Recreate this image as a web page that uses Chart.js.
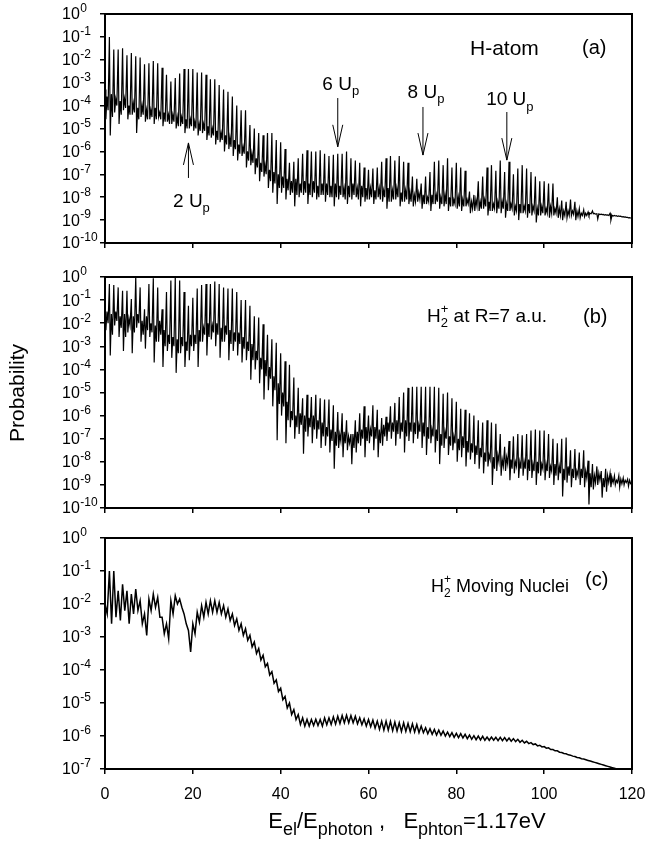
<!DOCTYPE html>
<html>
<head>
<meta charset="utf-8">
<script src="https://cdn.jsdelivr.net/npm/chart.js@4.4.0/dist/chart.umd.min.js"></script>
<style>
  html, body { margin: 0; padding: 0; background: #fff; }
  #page { position: relative; width: 650px; height: 842px; }
  canvas { position: absolute; left: 0; }
</style>
</head>
<body>
<div id="page">
  <canvas id="panelA" width="650" height="262" style="top:0px"></canvas>
  <canvas id="panelB" width="650" height="262" style="top:262px"></canvas>
  <canvas id="panelC" width="650" height="318" style="top:524px"></canvas>
</div>
<script>
const FONT = '"Liberation Sans", Arial, Helvetica, sans-serif';

// shared x ticks (electron energy in photon units)
const xTicks = [0, 20, 40, 60, 80, 100, 120];
// decades on the y axes, as exponents of ten
const decadesAB = [0, -1, -2, -3, -4, -5, -6, -7, -8, -9, -10];
const decadesC = [0, -1, -2, -3, -4, -5, -6, -7];

// (a) H-atom, log10 of probability: peak at each photon order n = 0..120
const peaksA = [
  -3.3, -1.0, -1.55, -1.55, -1.5, -1.8, -1.7, -1.85, -1.9, -2.2,
  -2.15, -2.05, -2.15, -2.35, -2.65, -2.95, -2.8, -2.6, -2.4, -2.4,
  -2.4, -2.55, -2.55, -2.65, -2.85, -2.85, -3.1, -3.3, -3.4, -3.6,
  -4.0, -4.2, -4.2, -4.85, -5.0, -5.2, -5.3, -5.2, -5.2, -5.5,
  -5.6, -5.9, -6.5, -6.45, -6.3, -6.1, -5.95, -6.0, -6.0, -5.95,
  -6.1, -6.2, -6.15, -6.1, -6.1, -6.0, -6.3, -6.4, -6.5, -6.7,
  -6.8, -6.75, -6.7, -6.45, -6.3, -6.2, -6.4, -6.2, -6.45, -6.5,
  -7.1, -7.2, -7.4, -7.1, -6.9, -6.45, -6.4, -6.6, -6.3, -6.7,
  -6.5, -6.7, -6.85, -7.75, -7.9, -7.3, -7.1, -6.7, -6.6, -6.85,
  -6.4, -6.9, -6.45, -7.0, -6.75, -6.6, -6.75, -6.9, -7.1, -7.3,
  -7.3, -7.4, -7.4, -8.0, -8.15, -8.2, -8.1, -8.2, -8.5, -8.55,
  -8.65, -8.6, -8.72, -8.74, -8.76, -8.7, -8.8, -8.82, -8.85, -8.88,
  -8.92
];
// (a) first minimum after order n
const dipsA = [
  -4.6, -5.3, -4.3, -4.8, -4.2, -4.6, -4.4, -5.2, -4.5, -4.7,
  -4.6, -4.8, -4.5, -4.9, -4.7, -4.8, -5.0, -4.9, -5.2, -5.0,
  -5.1, -5.3, -5.2, -5.5, -5.4, -5.7, -5.6, -6.0, -5.9, -6.2,
  -6.4, -6.2, -6.7, -6.6, -7.0, -7.3, -7.1, -7.6, -7.8, -8.3,
  -7.8, -8.1, -7.9, -8.4, -8.0, -7.9, -8.3, -8.0, -8.1, -7.9,
  -8.2, -8.0, -8.4, -8.1, -8.0, -8.3, -8.1, -8.0, -8.4, -8.2,
  -8.1, -8.3, -8.0, -8.2, -8.5, -8.2, -8.1, -8.4, -8.2, -8.3,
  -8.4, -8.2, -8.5, -8.3, -8.6, -8.3, -8.5, -8.4, -8.6, -8.4,
  -8.5, -8.6, -8.4, -8.7, -8.6, -8.6, -8.5, -8.8, -8.6, -8.7,
  -8.7, -8.9, -8.6, -8.8, -9.0, -8.7, -8.9, -8.8, -9.1, -8.8,
  -8.8, -8.9, -8.8, -8.9, -9.0, -8.9, -8.8, -9.0, -8.9, -8.85,
  -8.8, -8.72, -8.95, -8.76, -8.78, -9.0, -8.82, -8.84, -8.87, -8.9
];
// (a) top of the background band between orders
const bandA = [
  -3.6, -3.5, -3.7, -3.8, -3.7, -4.0, -3.9, -4.1, -4.0, -4.2,
  -4.2, -4.1, -4.3, -4.3, -4.4, -4.4, -4.5, -4.5, -4.6, -4.6,
  -4.7, -4.8, -4.8, -4.9, -5.0, -5.1, -5.2, -5.3, -5.4, -5.5,
  -5.7, -5.8, -6.0, -6.1, -6.3, -6.5, -6.6, -6.8, -6.9, -7.0,
  -7.1, -7.2, -7.3, -7.2, -7.4, -7.3, -7.4, -7.3, -7.5, -7.4,
  -7.4, -7.5, -7.4, -7.5, -7.6, -7.5, -7.4, -7.6, -7.5, -7.6,
  -7.6, -7.7, -7.6, -7.7, -7.6, -7.7, -7.6, -7.8, -7.7, -7.8,
  -7.9, -7.8, -7.9, -8.0, -7.9, -7.9, -8.0, -7.9, -8.0, -8.1,
  -8.0, -8.1, -8.1, -8.2, -8.1, -8.2, -8.1, -8.2, -8.3, -8.2,
  -8.2, -8.3, -8.3, -8.4, -8.3, -8.4, -8.3, -8.4, -8.5, -8.4,
  -8.5, -8.4, -8.5, -8.5, -8.6, -8.6, -8.6, -8.6, -8.7, -8.7,
  -8.7, -8.71, -8.73, -8.75, -8.77, -8.79, -8.81, -8.83, -8.86, -8.89
];
// (a) second minimum, just before order n+1
const dips2A = [
  -4.2, -4.5, -4.0, -4.4, -4.1, -4.4, -4.3, -4.6, -4.4, -4.6,
  -4.5, -4.6, -4.6, -4.7, -4.8, -4.7, -4.9, -4.8, -5.0, -4.9,
  -5.0, -5.1, -5.1, -5.3, -5.3, -5.5, -5.5, -5.7, -5.8, -5.9,
  -6.1, -6.1, -6.4, -6.5, -6.7, -6.9, -7.0, -7.3, -7.4, -7.6,
  -7.6, -7.7, -7.8, -7.9, -7.8, -7.8, -7.9, -7.8, -8.0, -7.9,
  -7.9, -8.0, -8.0, -7.9, -8.1, -8.0, -7.9, -8.1, -8.0, -8.1,
  -8.0, -8.1, -8.1, -8.0, -8.2, -8.1, -8.0, -8.2, -8.1, -8.2,
  -8.2, -8.1, -8.3, -8.2, -8.3, -8.2, -8.3, -8.3, -8.4, -8.3,
  -8.4, -8.4, -8.3, -8.5, -8.4, -8.5, -8.4, -8.6, -8.5, -8.5,
  -8.5, -8.6, -8.5, -8.6, -8.7, -8.6, -8.7, -8.6, -8.8, -8.7,
  -8.7, -8.7, -8.7, -8.8, -8.8, -8.8, -8.75, -8.85, -8.8, -8.8,
  -8.72, -8.74, -8.76, -8.78, -8.8, -8.82, -8.84, -8.86, -8.88, -8.91
];

// (b) H2+ at R = 7 a.u.
const peaksB = [
  -2.0,
  -0.3, -0.35, -0.45, -0.6, -0.6, -0.95, 0, -0.45, -1.4, -0.3,
  -0.05, -0.45, -1.4, -0.65, -0.15, 0, -0.15, -0.65, -1.25, -0.9,
  -0.5, -0.35, -0.3, -0.3, -0.2, -0.3, -0.45, -0.5, -0.5, -0.65,
  -1.0, -1.0, -1.25, -1.7, -1.75, -2.05, -2.5, -2.7, -2.85, -3.3,
  -3.65, -3.8, -4.35, -4.8, -5.25, -5.1, -5.2, -5.1, -5.25, -5.3,
  -5.3, -5.55, -5.85, -5.9, -6.2, -6.8, -6.2, -5.9, -5.6, -6.0,
  -5.55, -5.75, -6.1, -6.05, -5.6, -5.45, -5.2, -5.0, -4.8, -4.75,
  -4.75, -4.75, -4.75, -4.75, -4.75, -4.8, -5.05, -5.0, -5.25, -5.4,
  -5.7, -5.75, -5.9, -6.0, -6.2, -6.3, -6.2, -6.3, -6.35, -6.8,
  -7.35, -7.1, -6.9, -6.8, -6.85, -6.8, -6.65, -6.6, -6.65, -6.65,
  -6.8, -7.0, -7.2, -7.0, -6.95, -7.5, -7.45, -7.6, -7.5, -7.95,
  -8.1, -8.2, -8.4, -8.3, -8.5, -8.6, -8.6, -8.7, -8.75, -8.9
];
const dipsB = [
  -2.3, -3.4, -2.1, -2.6, -3.2, -2.4, -3.3, -2.2, -2.8, -3.1,
  -2.6, -3.7, -2.8, -3.9, -3.2, -3.5, -4.15, -3.3, -3.9, -3.6,
  -3.2, -3.9, -2.8, -3.4, -2.7, -3.0, -3.5, -2.8, -3.6, -3.2,
  -3.4, -3.7, -3.6, -4.45, -4.0, -4.6, -5.3, -4.9, -5.6, -7.07,
  -6.0, -7.2, -6.5, -7.0, -6.8, -7.65, -6.9, -7.2, -7.0, -7.4,
  -7.3, -7.6, -8.3, -7.4, -7.8, -7.5, -8.1, -7.6, -7.3, -7.8,
  -7.2, -7.5, -7.8, -7.3, -7.1, -7.0, -7.3, -7.0, -7.6, -7.1,
  -7.2, -7.0, -7.4, -7.7, -7.2, -7.6, -8.1, -7.4, -7.7, -7.5,
  -8.0, -7.8, -8.2, -7.9, -8.1, -8.3, -8.5, -8.2, -9.0, -8.4,
  -8.6, -8.4, -8.8, -8.5, -8.7, -8.6, -8.8, -8.7, -9.0, -8.6,
  -8.8, -8.7, -9.0, -8.8, -9.5, -8.9, -9.1, -8.8, -9.0, -9.1,
  -9.85, -9.2, -9.0, -9.55, -9.3, -9.1, -9.0, -9.1, -9.0, -9.05
];
const bandB = [
  -1.5, -1.6, -1.5, -1.7, -1.6, -1.8, -1.7, -1.6, -1.9, -1.7,
  -2.0, -2.1, -1.9, -2.3, -2.5, -2.6, -2.7, -2.6, -2.8, -2.5,
  -2.5, -2.3, -2.2, -2.0, -2.1, -2.0, -2.2, -2.1, -2.3, -2.4,
  -2.4, -2.6, -2.8, -2.9, -3.2, -3.5, -3.6, -3.9, -4.3, -4.6,
  -5.0, -5.4, -5.8, -6.0, -5.9, -6.0, -6.1, -6.0, -6.2, -6.3,
  -6.5, -6.6, -6.7, -6.8, -6.7, -6.9, -6.8, -6.7, -6.6, -6.5,
  -6.6, -6.5, -6.6, -6.4, -6.3, -6.3, -6.2, -6.3, -6.2, -6.3,
  -6.3, -6.4, -6.3, -6.5, -6.6, -6.6, -6.8, -6.7, -6.9, -6.9,
  -7.0, -6.9, -7.1, -7.2, -7.3, -7.4, -7.6, -7.7, -7.8, -7.7,
  -7.9, -7.8, -7.9, -8.0, -8.0, -8.0, -7.9, -8.1, -8.0, -8.1,
  -8.1, -8.2, -8.1, -8.2, -8.3, -8.2, -8.3, -8.4, -8.3, -8.4,
  -8.5, -8.6, -8.5, -8.7, -8.6, -8.7, -8.8, -8.75, -8.8, -8.8
];
const dips2B = [
  -2.0, -2.5, -1.9, -2.2, -2.6, -2.1, -2.4, -2.0, -2.5, -2.3,
  -2.4, -2.8, -2.5, -3.0, -2.9, -3.0, -3.3, -3.0, -3.2, -3.0,
  -2.9, -2.8, -2.5, -2.6, -2.4, -2.5, -2.8, -2.5, -2.9, -2.8,
  -2.9, -3.1, -3.2, -3.6, -3.6, -4.0, -4.3, -4.4, -4.9, -5.5,
  -5.6, -6.2, -6.2, -6.5, -6.4, -6.7, -6.5, -6.6, -6.6, -6.9,
  -6.9, -7.1, -7.3, -7.1, -7.2, -7.2, -7.4, -7.2, -7.0, -7.1,
  -6.9, -7.0, -7.2, -6.9, -6.7, -6.7, -6.8, -6.7, -6.9, -6.7,
  -6.8, -6.7, -6.9, -7.0, -6.9, -7.1, -7.3, -7.0, -7.3, -7.2,
  -7.5, -7.4, -7.6, -7.6, -7.7, -7.8, -8.0, -7.9, -8.3, -8.0,
  -8.2, -8.1, -8.3, -8.2, -8.3, -8.3, -8.4, -8.4, -8.5, -8.3,
  -8.4, -8.4, -8.6, -8.5, -8.8, -8.6, -8.7, -8.6, -8.7, -8.7,
  -9.1, -8.9, -8.8, -9.1, -8.9, -8.9, -8.9, -8.95, -8.9, -8.95
];

// (c) H2+ with moving nuclei: upper and lower edge of the ripple, n = 0..117
const rippleHiC = [
  -2.0, -1.0, -1.0, -1.6, -1.4, -1.6, -1.7, -1.55, -1.9, -2.3,
  -1.85, -1.7, -1.8, -2.4, -2.6, -1.9, -1.75, -1.85, -2.3, -2.8,
  -2.6, -2.25, -2.05, -1.95, -1.9, -1.9, -1.95, -2.05, -2.15, -2.3,
  -2.45, -2.6, -2.75, -2.95, -3.15, -3.35, -3.55, -3.8, -4.05, -4.3,
  -4.55, -4.8, -5.0, -5.2, -5.35, -5.45, -5.5, -5.5, -5.49, -5.5,
  -5.45, -5.45, -5.42, -5.4, -5.38, -5.37, -5.38, -5.4, -5.45, -5.48,
  -5.5, -5.52, -5.55, -5.55, -5.55, -5.56, -5.58, -5.6, -5.6, -5.62,
  -5.63, -5.65, -5.7, -5.75, -5.78, -5.8, -5.82, -5.85, -5.88, -5.9,
  -5.92, -5.93, -5.95, -5.97, -5.99, -6.0, -6.01, -6.03, -6.03, -6.04,
  -6.04, -6.05, -6.06, -6.08, -6.1, -6.13, -6.16, -6.2, -6.24, -6.28,
  -6.32, -6.36, -6.41, -6.45, -6.5, -6.54, -6.58, -6.62, -6.66, -6.7,
  -6.74, -6.78, -6.82, -6.86, -6.9, -6.94, -6.98, -7.02
];
const rippleLoC = [
  -2.3, -2.6, -2.4, -2.5, -2.2, -2.6, -2.3, -2.2, -2.6, -2.95,
  -2.2, -2.1, -2.4, -2.9, -3.05, -2.3, -2.0, -2.1, -2.6, -3.45,
  -2.9, -2.55, -2.4, -2.3, -2.25, -2.25, -2.3, -2.4, -2.5, -2.65,
  -2.8, -2.95, -3.1, -3.3, -3.5, -3.7, -3.9, -4.15, -4.4, -4.65,
  -4.9, -5.15, -5.35, -5.5, -5.65, -5.7, -5.7, -5.68, -5.68, -5.7,
  -5.66, -5.65, -5.64, -5.62, -5.6, -5.6, -5.6, -5.63, -5.66, -5.7,
  -5.72, -5.76, -5.8, -5.82, -5.82, -5.84, -5.85, -5.86, -5.86, -5.87,
  -5.88, -5.9, -5.9, -5.93, -5.95, -5.97, -5.98, -6.0, -6.02, -6.04,
  -6.05, -6.06, -6.08, -6.1, -6.11, -6.12, -6.13, -6.13, -6.13, -6.14,
  -6.14, -6.15, -6.16, -6.17, -6.19, -6.21, -6.23, -6.26, -6.3, -6.33,
  -6.37, -6.41, -6.45, -6.49, -6.53, -6.57, -6.61, -6.65, -6.69, -6.72,
  -6.76, -6.8, -6.84, -6.88, -6.92, -6.96, -7.0
];

// U_p markers in panel (a): energy, arrow tail/tip and label height (log10)
const upMarks = [
  { label: '2', x: 19.0, tail: -7.16, tip: -5.63, text: -8.2 },
  { label: '6', x: 53.0, tail: -3.67, tip: -5.8, text: -3.1 },
  { label: '8', x: 72.4, tail: -4.06, tip: -6.16, text: -3.45 },
  { label: '10', x: 91.5, tail: -4.28, tip: -6.38, text: -3.76 }
];

// each photon order: sharp peak at n, then two minima around the band level
function spikyLine(peaks, dips, band, dips2) {
  const pts = [];
  peaks.forEach((p, n) => {
    pts.push({ x: n, y: Math.pow(10, p) });
    if (n < dips.length) {
      pts.push({ x: n + 0.2, y: Math.pow(10, dips[n]) });
      pts.push({ x: n + 0.45, y: Math.pow(10, band[n]) });
      pts.push({ x: n + 0.7, y: Math.pow(10, dips2[n]) });
    }
  });
  return pts;
}

function rippleLine(hi, lo) {
  const pts = [];
  hi.forEach((h, n) => {
    pts.push({ x: n, y: Math.pow(10, h) });
    if (n < lo.length) pts.push({ x: n + 0.5, y: Math.pow(10, lo[n]) });
  });
  return pts;
}

// text with sub/superscripts: parts are [text, kind, hold]
function drawRich(ctx, x, y, parts, size, align, subScale) {
  const big = size + 'px ' + FONT;
  const small = Math.round(size * (subScale || 0.68)) + 'px ' + FONT;
  let total = 0;
  const widths = parts.map(([t, k, hold]) => {
    ctx.font = k ? small : big;
    const w = ctx.measureText(t).width;
    if (!hold) total += w;
    return w;
  });
  let cx = align === 'center' ? x - total / 2 : x;
  ctx.textBaseline = 'middle';
  ctx.textAlign = 'left';
  parts.forEach(([t, k, hold], i) => {
    ctx.font = k ? small : big;
    let dy = 0;
    if (k === 'sub') dy = size * 0.36;
    if (k === 'sup') dy = -size * 0.38;
    ctx.fillText(t, cx, y + dy);
    if (!hold) cx += widths[i];
  });
}

function drawArrow(ctx, x, yTail, yTip) {
  const dir = yTip > yTail ? 1 : -1;
  ctx.beginPath();
  ctx.moveTo(x, yTail);
  ctx.lineTo(x, yTip);
  ctx.moveTo(x - 5, yTip - dir * 22);
  ctx.lineTo(x, yTip);
  ctx.lineTo(x + 5, yTip - dir * 22);
  ctx.stroke();
}

const decor = {
  id: 'decor',
  afterDraw(chart, args, opts) {
    const { ctx, chartArea: a, scales } = chart;
    ctx.save();
    ctx.strokeStyle = '#000';
    ctx.fillStyle = '#000';
    ctx.lineWidth = 2;
    ctx.strokeRect(a.left, a.top, a.right - a.left, a.bottom - a.top);

    // decade labels 10^n
    opts.decades.forEach(e => {
      const y = scales.y.getPixelForValue(Math.pow(10, e));
      ctx.textBaseline = 'middle';
      ctx.textAlign = 'left';
      ctx.font = '16px ' + FONT;
      ctx.fillText('10', 62, y + 1);
      const w = ctx.measureText('10').width;
      ctx.font = '12px ' + FONT;
      ctx.fillText(String(e), 62 + w + 0.5, y - 5);
    });

    (opts.texts || []).forEach(t => drawRich(ctx, t.x, t.y, t.parts, t.size, t.align));

    ctx.lineWidth = 1;
    (opts.marks || []).forEach(m => {
      const x = scales.x.getPixelForValue(m.x);
      const yTail = scales.y.getPixelForValue(Math.pow(10, m.tail));
      const yTip = scales.y.getPixelForValue(Math.pow(10, m.tip));
      const yText = scales.y.getPixelForValue(Math.pow(10, m.text));
      drawArrow(ctx, x, yTail, yTip);
      drawRich(ctx, x + 3, yText, [[m.label + ' U', ''], ['p', 'sub']], 19, 'center');
    });

    if (opts.yTitle) {
      ctx.save();
      ctx.translate(18, opts.yTitle);
      ctx.rotate(-Math.PI / 2);
      ctx.font = '21px ' + FONT;
      ctx.textAlign = 'center';
      ctx.textBaseline = 'middle';
      ctx.fillText('Probability', 0, 0);
      ctx.restore();
    }
    if (opts.xTitle) {
      drawRich(ctx, 407, opts.xTitle, [
        ['E', ''], ['el', 'sub'], ['/E', ''], ['photon', 'sub'],
        [' ,   E', ''], ['phton', 'sub'], ['=1.17eV', '']
      ], 22, 'center', 0.8);
    }
    ctx.restore();
  }
};

function panelChart(id, points, cfg) {
  const tickGrid = {
    display: true,
    drawOnChartArea: false,
    drawTicks: true,
    tickLength: 5,
    color: '#000',
    lineWidth: 1.5
  };
  return new Chart(document.getElementById(id), {
    type: 'line',
    data: {
      datasets: [{
        data: points,
        borderColor: '#000',
        borderWidth: cfg.lineWidth,
        pointRadius: 0,
        tension: 0,
        fill: false
      }]
    },
    options: {
      responsive: false,
      animation: false,
      events: [],
      layout: { padding: { top: cfg.padTop, right: 18, left: 0, bottom: 0 } },
      plugins: {
        legend: { display: false },
        tooltip: { enabled: false },
        decor: cfg
      },
      scales: {
        x: {
          type: 'linear',
          min: 0,
          max: 120,
          afterBuildTicks: s => { s.ticks = xTicks.map(v => ({ value: v })); },
          afterFit: s => {
            s.height = cfg.xHeight;
            s.paddingLeft = 0;
            s.paddingRight = 0;
          },
          ticks: {
            display: !!cfg.xLabels,
            color: '#000',
            font: { family: FONT, size: 16 },
            padding: 11,
            maxRotation: 0
          },
          grid: tickGrid,
          border: { display: false }
        },
        y: {
          type: 'logarithmic',
          min: Math.pow(10, cfg.decades[cfg.decades.length - 1]),
          max: 1,
          afterBuildTicks: s => { s.ticks = cfg.decades.map(e => ({ value: Math.pow(10, e) })); },
          afterFit: s => { s.width = 105; },
          ticks: { display: false },
          grid: tickGrid,
          border: { display: false }
        }
      }
    },
    plugins: [decor]
  });
}

panelChart('panelA', spikyLine(peaksA, dipsA, bandA, dips2A), {
  padTop: 14, xHeight: 19, lineWidth: 1.2, decades: decadesAB, marks: upMarks,
  texts: [
    { x: 470, y: 49, size: 21, parts: [['H-atom', '']] },
    { x: 582, y: 48, size: 20, parts: [['(a)', '']] }
  ]
});

panelChart('panelB', spikyLine(peaksB, dipsB, bandB, dips2B), {
  padTop: 15, xHeight: 16, lineWidth: 1.2, decades: decadesAB, yTitle: 131,
  texts: [
    { x: 427, y: 55, size: 19, parts: [['H', ''], ['2', 'sub', true], ['+', 'sup'], [' at R=7 a.u.', '']] },
    { x: 583, y: 55, size: 20, parts: [['(b)', '']] }
  ]
});

panelChart('panelC', rippleLine(rippleHiC, rippleLoC), {
  padTop: 14, xHeight: 73, lineWidth: 1.5, decades: decadesC, xLabels: true, xTitle: 298,
  texts: [
    { x: 431, y: 63, size: 18, parts: [['H', ''], ['2', 'sub', true], ['+', 'sup'], [' Moving Nuclei', '']] },
    { x: 585, y: 56, size: 20, parts: [['(c)', '']] }
  ]
});
</script>
</body>
</html>
